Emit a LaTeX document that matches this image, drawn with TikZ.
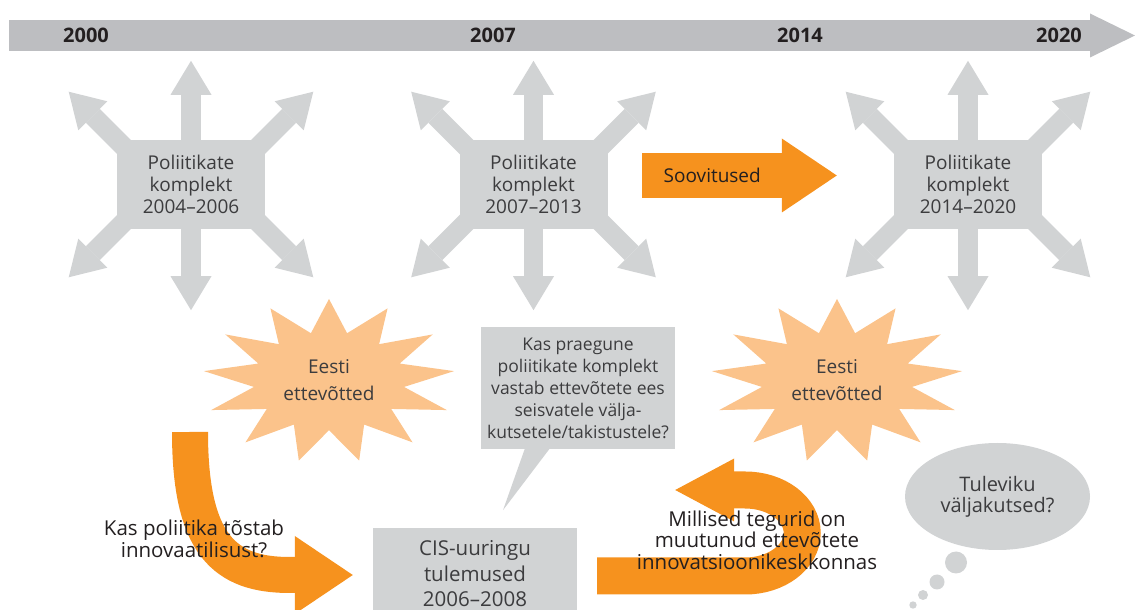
\documentclass[tikz,border=0pt]{standalone}
\usepackage{fontspec}
\setmainfont{Open Sans}
\usepackage{tikz}
\usetikzlibrary{shapes.geometric, arrows.meta, positioning, calc}
\definecolor{myorange}{RGB}{246,146,30}
\definecolor{mypeach}{RGB}{251,195,139}
\definecolor{mygray}{RGB}{209,211,212}
\definecolor{mybar}{RGB}{189,190,193}
\definecolor{mydark}{RGB}{35,31,32}
\definecolor{mytext}{RGB}{60,60,62}
\tikzset{
  yearlabel/.style={font=\bfseries\fontsize{20}{24}\selectfont, text=mydark, inner sep=0pt},
  polbox/.style={rectangle, fill=mygray, minimum width=148pt, minimum height=89pt,
    align=center, text=mytext, font=\fontsize{19}{21.7}\selectfont, inner sep=0pt},
  firmtext/.style={align=center, text=mytext, font=\fontsize{19}{27}\selectfont, inner sep=0pt},
  qbox/.style={rectangle, fill=mygray, minimum width=194pt, minimum height=122pt,
    align=center, text=mytext, font=\fontsize{17.5}{22}\selectfont, inner sep=0pt},
  cisbox/.style={rectangle, fill=mygray, minimum width=204pt, minimum height=91pt,
    align=center, text=mytext, font=\fontsize{20.5}{25.5}\selectfont, inner sep=0pt},
  thought/.style={ellipse, fill=mygray, minimum width=185pt, minimum height=107pt,
    align=center, text=mytext, font=\fontsize{20}{21}\selectfont, inner sep=0pt},
  asktext/.style={align=center, text=mydark, font=\fontsize{20.5}{21.5}\selectfont, inner sep=0pt},
  plain/.style={text=mydark, font=\fontsize{19}{22}\selectfont, inner sep=0pt},
  timeline/.style={-{Triangle[length=45pt, width=44pt, line width=0pt]}, line width=31pt, draw=mybar},
  grayarrow/.style={-{Triangle[length=34pt, width=41pt, line width=0pt]}, line width=19.5pt, draw=mygray},
  orangearrow/.style={-{Triangle[length=55pt, width=74pt, line width=0pt]}, line width=45pt, draw=myorange},
  bigarrow/.style={-{Triangle[length=58pt, width=78pt, line width=0pt]}, line width=36pt, draw=myorange},
  uarrow/.style={-{Triangle[length=59pt, width=63pt, line width=0pt]}, line width=37pt, draw=myorange}
}

\begin{document}
\begin{tikzpicture}[x=1pt, y=1pt]
  \useasboundingbox (0,0) rectangle (1135,610);
  \clip (0,0) rectangle (1135,610);
  % time axis
  \coordinate (t0) at (9,574.5);
  \coordinate (t1) at (1135,574.5);
  \draw[timeline] (t0) -- (t1);
  \foreach \yr/\x in {2000/86, 2007/493, 2014/800, 2020/1059}
    \node[yearlabel] (y\yr) at (\x,574.5) {\yr};
  % policy sets
  \foreach \n/\x/\per in {p1/191/2004–2006, p2/533.5/2007–2013, p3/968/2014–2020} {
    \node[polbox] (\n) at (\x,425.5) {Poliitikate\\komplekt\\\per};
    \draw[grayarrow] ([yshift=-2pt]\n.north) -- ++(0,81);
    \draw[grayarrow] ([yshift=2pt]\n.south) -- ++(0,-83);
    \foreach \a/\d in {north west/135, north east/45, south west/225, south east/-45}
      \draw[grayarrow] ($(\n.\a)+(\d:-12)$) -- ($(\n.\a)+(\d:68)$);
  }
  \draw[orangearrow] ($(p2.east)+(34.5,9)$) -- ($(p3.west)+(-57,9)$)
    node[pos=0.36, plain] (rec) {Soovitused};
  % firms
  \foreach \n/\x in {e1/329, e2/837} {
    \begin{scope}[shift={(\x,229)}]
      \fill[mypeach] plot[samples at={0,...,25}, variable=\k]
        ({(1-0.4*mod(\k,2))*126*cos(90+\k*360/26)}, {(1-0.4*mod(\k,2))*82*sin(90+\k*360/26)}) -- cycle;
    \end{scope}
    \node[firmtext] (\n) at (\x,230) {Eesti\\ettevõtted};
  }
  % question
  \node[qbox] (q) at (578,222) {Kas praegune\\poliitikate komplekt\\vastab ettevõtete ees\\seisvatele välja-\\kutsetele/takistustele?};
  \fill[mygray] ([xshift=-53pt,yshift=1pt]q.south) -- ([xshift=-28pt,yshift=1pt]q.south)
    -- ([shift={(-75pt,-61pt)}]q.south) -- cycle;
  % CIS results
  \node[cisbox] (cis) at (475,36) {CIS-uuringu\\tulemused\\2006–2008};
  \coordinate (c0) at (190,178);
  \draw[bigarrow] (c0) .. controls +(0,-113) and +(-65,0) .. ([xshift=-83pt,yshift=-1pt]cis.west)
    -- ([xshift=-20pt,yshift=-1pt]cis.west);
  \node[asktext] (ask1) at (194,71) {Kas poliitika tõstab\\innovaatilisust?};
  \draw[uarrow] ([xshift=20pt,yshift=-2pt]cis.east) -- ++(148,0)
    arc[start angle=-90, end angle=90, x radius=57, y radius=43] -- ++(-70,0);
  \node[asktext] (ask2) at (757,70) {Millised tegurid on\\muutunud ettevõtete\\innovatsioonikeskkonnas};
  % future
  \node[thought] (fut) at (997.5,113.5) {Tuleviku\\väljakutsed?};
  \foreach \cx/\cy/\r in {956/47.5/11, 937/28/7.5, 923/15/5, 913/5/3.7}
    \fill[mygray] (\cx,\cy) circle[radius=\r];
\end{tikzpicture}
\end{document}
